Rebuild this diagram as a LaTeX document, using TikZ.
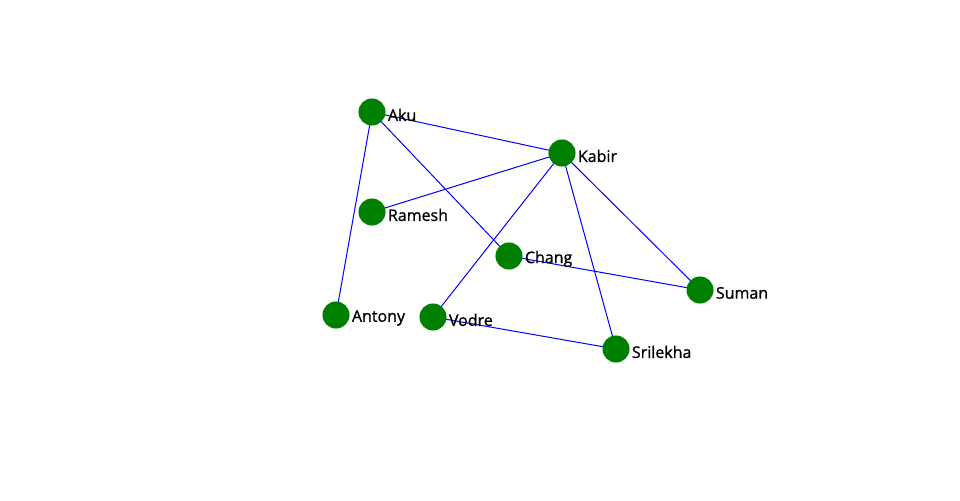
\documentclass[tikz,border=0pt]{standalone}
\usepackage{fontspec}
\setmainfont{Open Sans}
\newfontfamily\lblfont[FakeBold=1]{Open Sans}
\usepackage{tikz}
\usetikzlibrary{positioning,backgrounds}

\definecolor{nodegreen}{RGB}{0,128,0}
\definecolor{edgeblue}{RGB}{0,0,255}

\begin{document}
\begin{tikzpicture}[x=0.75pt, y=-0.75pt,
  person/.style={draw=none, circle, fill=nodegreen, minimum size=20.3pt, inner sep=0pt},
  lbl/.style={font=\lblfont\fontsize{12}{13}\selectfont, inner sep=0pt, xshift=1.4pt, yshift=-2.2pt},
  link/.style={draw=edgeblue, line width=0.75pt}]

\useasboundingbox (0,0) rectangle (960,500);

% People
\node[person, label={[lbl]right:Aku}] (aku) at (372,112) {};
\node[person, label={[lbl]right:Kabir}] (kabir) at (562,153) {};
\node[person, label={[lbl]right:Ramesh}] (ramesh) at (372,212) {};
\node[person, label={[lbl]right:Chang}] (chang) at (509,256) {};
\node[person, label={[lbl]right:Suman}] (suman) at (700,290) {};
\node[person, label={[lbl]right:Antony}] (antony) at (336,315) {};
\node[person, label={[lbl]right:Vodre}] (vodre) at (433,317) {};
\node[person, label={[lbl]right:Srilekha}] (srilekha) at (616,349) {};

% Links
\begin{scope}[on background layer]
\draw[link] (aku.center) -- (kabir.center);
\draw[link] (aku.center) -- (chang.center);
\draw[link] (aku.center) -- (antony.center);
\draw[link] (kabir.center) -- (ramesh.center);
\draw[link] (kabir.center) -- (vodre.center);
\draw[link] (kabir.center) -- (srilekha.center);
\draw[link] (kabir.center) -- (suman.center);
\draw[link] (chang.center) -- (suman.center);
\draw[link] (vodre.center) -- (srilekha.center);
\end{scope}

\end{tikzpicture}
\end{document}
